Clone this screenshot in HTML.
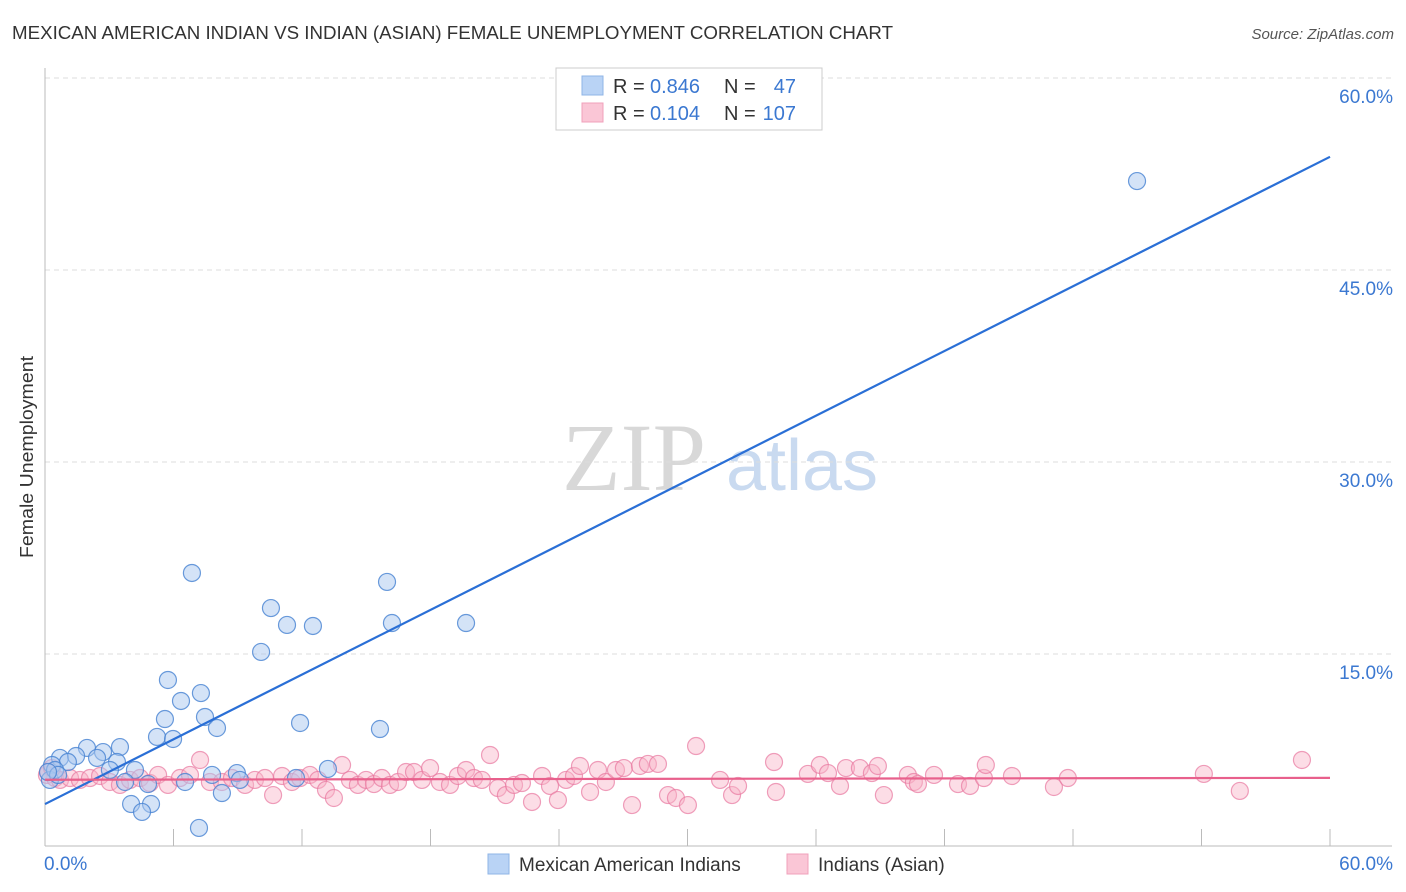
<!DOCTYPE html>
<html><head><meta charset="utf-8"><style>
body{margin:0;background:#fff;font-family:"Liberation Sans",sans-serif;}
svg{display:block}
</style></head><body>
<svg id="chart" width="1406" height="892" xmlns="http://www.w3.org/2000/svg" font-family="Liberation Sans, sans-serif">
<text x="12" y="39" font-size="18" fill="#333" textLength="881" lengthAdjust="spacingAndGlyphs">MEXICAN AMERICAN INDIAN VS INDIAN (ASIAN) FEMALE UNEMPLOYMENT CORRELATION CHART</text>
<text x="1394" y="39" font-size="15" fill="#555" text-anchor="end" font-style="italic">Source: ZipAtlas.com</text>
<text transform="translate(33,457) rotate(-90)" font-size="18" fill="#333" text-anchor="middle" textLength="202" lengthAdjust="spacingAndGlyphs">Female Unemployment</text>
<g>
<text x="634" y="490" font-size="96" fill="#d8d8d8" font-family="Liberation Serif, serif" text-anchor="middle">ZIP</text>
<text x="802" y="490" font-size="72" fill="#c9daf0" text-anchor="middle">atlas</text>
</g>
<g id="grid"></g><g id="axes"></g><g id="pink"></g><g id="blue"></g><g id="trends"></g>
<g>
<rect x="556" y="68" width="266" height="62" fill="#fff" stroke="#ccc"/>
<rect x="582" y="76" width="21" height="19" fill="#b9d3f5" stroke="#8fb4e6"/>
<rect x="582" y="103" width="21" height="19" fill="#fac6d6" stroke="#f0a0bb"/>
<text x="613" y="93" font-size="20" fill="#333">R =</text><text x="650" y="93" font-size="20" fill="#3b78d1">0.846</text>
<text x="724" y="93" font-size="20" fill="#333">N =</text><text x="796" y="93" font-size="20" fill="#3b78d1" text-anchor="end">47</text>
<text x="613" y="120" font-size="20" fill="#333">R =</text><text x="650" y="120" font-size="20" fill="#3b78d1">0.104</text>
<text x="724" y="120" font-size="20" fill="#333">N =</text><text x="796" y="120" font-size="20" fill="#3b78d1" text-anchor="end">107</text>
</g>
<g>
<rect x="488" y="854" width="21" height="20" fill="#b9d3f5" stroke="#8fb4e6"/>
<text x="519" y="871" font-size="19" fill="#333">Mexican American Indians</text>
<rect x="787" y="854" width="21" height="20" fill="#fac6d6" stroke="#f0a0bb"/>
<text x="818" y="871" font-size="19" fill="#333">Indians (Asian)</text>
</g>
</svg>
<script>
const yTicks=[15,30,45,60];
const yTickLabels=["15.0%","30.0%","45.0%","60.0%"];
const xTickLabels=["0.0%","60.0%"];
const blueX=[50.99,6.86,15.97,10.55,11.30,12.51,16.20,19.66,10.09,5.74,7.28,6.35,5.60,7.47,11.91,8.03,15.64,5.23,5.98,3.50,1.96,2.71,0.70,1.45,2.43,1.07,3.36,0.33,4.20,13.21,8.96,7.80,11.72,6.54,9.10,0.23,3.74,4.81,8.26,4.02,4.95,4.53,7.19,0.47,0.61,0.14,3.03];
const blueY=[51.95,21.33,20.63,18.59,17.27,17.19,17.42,17.42,15.16,12.97,11.95,11.33,9.92,10.08,9.61,9.22,9.14,8.52,8.36,7.73,7.66,7.34,6.88,7.03,6.88,6.56,6.56,6.33,5.94,6.02,5.70,5.55,5.31,5.00,5.16,5.16,5.00,4.84,4.14,3.28,3.28,2.66,1.41,5.94,5.55,5.78,5.94];
const pinkX=[0.09,0.47,0.70,1.17,1.63,2.10,2.57,3.03,3.50,3.97,4.44,4.90,5.28,5.74,6.30,6.77,7.24,7.70,8.26,8.73,9.34,9.80,10.27,10.65,11.07,11.53,11.91,12.37,12.75,13.12,13.49,13.87,14.24,14.61,14.99,15.36,15.73,16.11,16.48,16.86,17.23,17.60,17.98,18.44,18.91,19.28,19.66,20.03,20.40,20.78,21.15,21.52,21.90,22.27,22.74,23.21,23.58,23.95,24.33,24.70,24.98,25.45,25.82,26.19,26.66,27.03,27.41,27.78,28.15,28.62,29.09,29.46,30.02,30.40,31.52,32.08,32.36,34.04,34.13,35.62,36.18,36.56,37.12,37.40,38.05,38.61,38.89,39.17,40.29,40.57,40.76,41.51,42.63,43.19,43.84,43.93,45.15,47.11,47.76,54.11,55.79,58.69,0.14,0.33];
const pinkY=[5.55,5.31,5.16,5.31,5.16,5.31,5.47,5.00,4.77,5.16,5.31,4.92,5.55,4.77,5.31,5.55,6.72,5.00,5.00,5.31,4.77,5.16,5.31,3.98,5.47,5.00,5.31,5.55,5.16,4.38,3.75,6.33,5.16,4.77,5.16,4.84,5.31,4.77,5.00,5.78,5.78,5.16,6.09,5.00,4.77,5.47,5.94,5.31,5.16,7.11,4.53,3.98,4.77,4.92,3.44,5.47,4.69,3.59,5.16,5.47,6.25,4.22,5.94,5.00,5.94,6.09,3.20,6.25,6.41,6.41,3.98,3.75,3.20,7.81,5.16,3.98,4.69,6.56,4.22,5.63,6.33,5.70,4.69,6.09,6.09,5.70,6.25,3.98,5.55,5.00,4.84,5.55,4.84,4.69,5.31,6.33,5.47,4.61,5.31,5.63,4.30,6.72,5.78,6.09];
const NS="http://www.w3.org/2000/svg";
const X0=45,X1=1330,Y0=846,YTOP=78;
function sx(v){return X0+v/60*(X1-X0);}
function sy(v){return Y0-v/60*(Y0-YTOP);}
function mk(tag,attrs,parent){const e=document.createElementNS(NS,tag);for(const k in attrs)e.setAttribute(k,attrs[k]);document.getElementById(parent).appendChild(e);return e;}
yTicks.forEach((t,i)=>{
 const g=mk('line',{x1:X0,x2:1392,y1:sy(t),y2:sy(t),stroke:'#ddd','stroke-dasharray':'5,4'},'grid');
 
 
 const l=mk('text',{x:1393,y:sy(t)+25,'font-size':19,fill:'#3b78d1','text-anchor':'end'},'grid');
 l.textContent=yTickLabels[i];
 
 
});
const ax=mk('line',{x1:X0,x2:X0,y1:68,y2:Y0,stroke:'#bbb'},'axes');


const bx=mk('line',{x1:X0,x2:1392,y1:Y0,y2:Y0,stroke:'#bbb'},'axes');


for(let i=1;i<=10;i++){const v=i*6;const t=mk('line',{x1:sx(v),x2:sx(v),y1:Y0-17,y2:Y0,stroke:'#bbb'},'axes');
 
 }
const xl0=mk('text',{x:44,y:870,'font-size':19,fill:'#3b78d1'},'axes');xl0.textContent=xTickLabels[0];


const xl1=mk('text',{x:1393,y:870,'font-size':19,fill:'#3b78d1','text-anchor':'end'},'axes');xl1.textContent=xTickLabels[1];


function pts(xs,ys,parent,fill,stroke,name){xs.forEach((x,i)=>{const c=mk('circle',{cx:sx(x),cy:sy(ys[i]),r:8.5,fill:fill,stroke:stroke,'stroke-width':1.2},parent);
 
 });}
pts(pinkX,pinkY,'pink','rgba(248,180,200,0.45)','rgba(232,120,160,0.7)','indian-point');
pts(blueX,blueY,'blue','rgba(170,200,240,0.5)','rgba(70,130,210,0.8)','mexican-point');
function fit(xs,ys){const n=xs.length;let mx=0,my=0;xs.forEach((x,i)=>{mx+=x;my+=ys[i];});mx/=n;my/=n;let sxy=0,sxx=0;xs.forEach((x,i)=>{sxy+=(x-mx)*(ys[i]-my);sxx+=(x-mx)*(x-mx);});const b=sxy/sxx;return [my-b*mx,b];}
const fb=fit(blueX,blueY),fp=fit(pinkX,pinkY);
const tb=mk('line',{x1:sx(0),y1:sy(fb[0]),x2:sx(60),y2:sy(fb[0]+fb[1]*60),stroke:'#2a6fd6','stroke-width':2.2},'trends');


const tp=mk('line',{x1:sx(0),y1:sy(fp[0]),x2:sx(60),y2:sy(fp[0]+fp[1]*60),stroke:'#e8608c','stroke-width':2.2},'trends');


</script>
</body></html>
